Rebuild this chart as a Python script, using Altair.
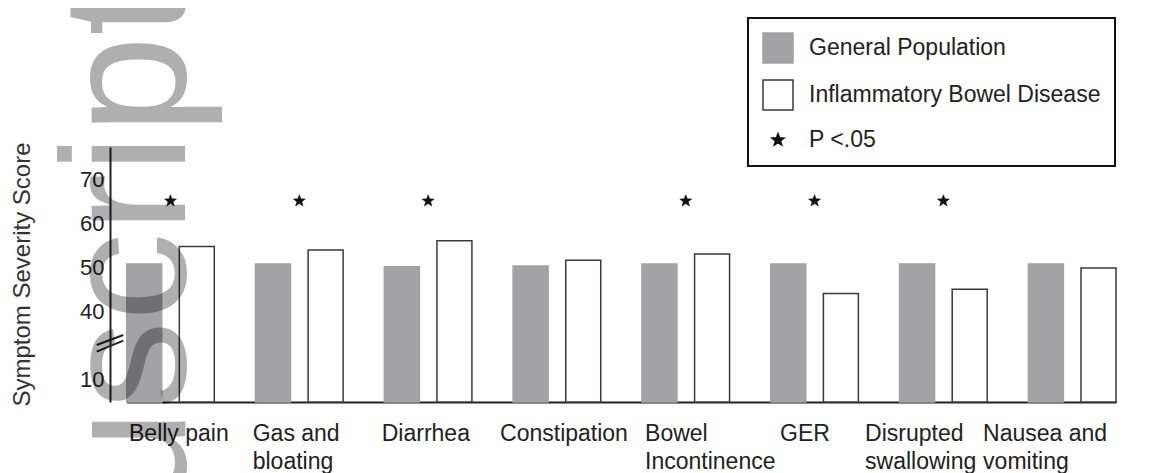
import math
import altair as alt
import pandas as pd

# ---------------- data ----------------
CATEGORIES = ["Belly pain", "Gas and bloating", "Diarrhea", "Constipation",
              "Bowel Incontinence", "GER", "Disrupted swallowing", "Nausea and vomiting"]
LABEL_LINES = [["Belly pain"], ["Gas and", "bloating"], ["Diarrhea"], ["Constipation"],
               ["Bowel", "Incontinence"], ["GER"], ["Disrupted", "swallowing"],
               ["Nausea and", "vomiting"]]
SERIES = ["General Population", "Inflammatory Bowel Disease"]
SIG_LABEL = "P <.05"
GENERAL = [50.8, 50.8, 50.2, 50.4, 50.8, 50.8, 50.8, 50.8]
IBD = [54.8, 54.0, 56.1, 51.7, 53.1, 44.1, 45.1, 49.9]
SIGNIFICANT = ["Belly pain", "Gas and bloating", "Diarrhea", "Bowel Incontinence",
               "GER", "Disrupted swallowing"]
Y_TICKS = [10, 40, 50, 60, 70]
Y_TITLE = "Symptom Severity Score"
STAR_LEVEL = 65.2
WATERMARK = "uscript"

# ---------------- styles ----------------
FONT = "Liberation Sans"
LABEL_SHIFT = [-41.5, -46.6, -46.4, -56.9, -40.7, -34.5, -78.3, -89.1]


def star_path(r_out=0.42, ratio=0.42):
    pts = []
    for k in range(10):
        r = r_out if k % 2 == 0 else r_out * ratio
        a = -math.pi / 2 + k * math.pi / 5
        pts.append((r * math.cos(a), r * math.sin(a)))
    return "M" + " L".join(f"{x:.3f},{y:.3f}" for x, y in pts) + " Z"


STAR = star_path()

bars_df = pd.DataFrame({
    "category": CATEGORIES * 2,
    "series": [SERIES[0]] * len(CATEGORIES) + [SERIES[1]] * len(CATEGORIES),
    "score": GENERAL + IBD,
})
stars_df = pd.DataFrame({"category": SIGNIFICANT, "series": [SIG_LABEL] * len(SIGNIFICANT)})
one = pd.DataFrame({"k": [0]})

legend_domain = SERIES + [SIG_LABEL]
fill_scale = alt.Scale(domain=legend_domain, range=["#a3a3a6", "#ffffff", "#111111"])
stroke_scale = alt.Scale(domain=legend_domain, range=["#a3a3a6", "#3a3a3a", "#111111"])
shape_scale = alt.Scale(domain=legend_domain, range=["square", "square", STAR])

label_expr = " : ".join(
    f"datum.value == '{c}' ? [" + ", ".join(f"'{l}'" for l in lines) + "]"
    for c, lines in zip(CATEGORIES, LABEL_LINES)
) + " : datum.label"
label_offset = {
    "condition": [{"test": f"datum.value == '{c}'", "value": o}
                  for c, o in zip(CATEGORIES, LABEL_SHIFT)],
    "value": -45,
}

x_axis = alt.Axis(title=None, labelAngle=0, labelAlign="left", labelBaseline="top",
                  labelPadding=20, labelLineHeight=28, labelExpr=label_expr,
                  labelOffset=label_offset, ticks=False, tickSize=0, labelFontSize=23,
                  labelLimit=0, labelOverlap=False, grid=False)
x_enc = alt.X("category:N", sort=CATEGORIES, axis=x_axis,
              scale=alt.Scale(range=[16.7, 1006], paddingInner=0.32, paddingOuter=0))

y_axis = alt.Axis(values=Y_TICKS, title=Y_TITLE, titleFontSize=24, titleFontWeight="normal",
                  titleX=-88, titleY=127, titleAngle=270, titleAlign="center",
                  titleBaseline="middle", titleColor="#333333",
                  labelPadding=6, ticks=False, tickSize=0, grid=False, labelFontSize=22)
y_scale = alt.Scale(domain=[0, 40, 77.5], range=[255, 164.5, 0], nice=False, zero=False)

legend = alt.Legend(title=None, orient="none", legendX=638, legendY=-129, symbolSize=900,
                    labelFontSize=23, labelOffset=15, rowPadding=11, padding=14,
                    strokeColor="#111111", symbolStrokeWidth=1.5, labelColor="#222222",
                    labelLimit=0, labelFont=FONT, symbolOpacity=1)

bars = alt.Chart(bars_df).mark_bar(strokeWidth=1.5, opacity=1).encode(
    x=x_enc,
    xOffset=alt.XOffset("series:N", sort=SERIES,
                        scale=alt.Scale(domain=SERIES, paddingInner=0.335, paddingOuter=0)),
    y=alt.Y("score:Q", scale=y_scale, axis=y_axis),
    fill=alt.Fill("series:N", scale=fill_scale, legend=legend),
    stroke=alt.Stroke("series:N", scale=stroke_scale, legend=legend),
)

stars = alt.Chart(stars_df).mark_point(filled=True, size=900, strokeWidth=0.5,
                                       opacity=1).encode(
    x=alt.X("category:N", sort=CATEGORIES),
    y=alt.datum(STAR_LEVEL),
    fill=alt.Fill("series:N", scale=fill_scale, legend=legend),
    stroke=alt.Stroke("series:N", scale=stroke_scale, legend=legend),
    shape=alt.Shape("series:N", scale=shape_scale, legend=legend),
)

brk1 = alt.Chart(one).mark_rule(color="#222222", strokeWidth=2).encode(
    x=alt.value(-13.3), x2=alt.value(13.3), y=alt.value(198), y2=alt.value(188))
brk2 = alt.Chart(one).mark_rule(color="#222222", strokeWidth=2).encode(
    x=alt.value(-13.3), x2=alt.value(13.3), y=alt.value(204.7), y2=alt.value(193.7))

mark = alt.Chart(one).mark_text(angle=270, align="left", baseline="alphabetic",
                                fontSize=177, font=FONT, color="black",
                                opacity=0.31).encode(
    x=alt.value(75), y=alt.value(361), text=alt.value(WATERMARK))

chart = alt.layer(bars, stars, brk1, brk2, mark).properties(
    width=1007, height=255,
    autosize=alt.AutoSizeParams(type="none"),
    padding={"left": 102, "top": 139, "right": 24, "bottom": 71},
).configure_view(strokeWidth=0).configure_axis(
    labelFont=FONT, titleFont=FONT, labelColor="#222222",
    domainColor="#222222", domainWidth=2,
).configure_legend(strokeWidth=2)

chart.save("out.html", embed_options={"renderer": "svg", "actions": False})
